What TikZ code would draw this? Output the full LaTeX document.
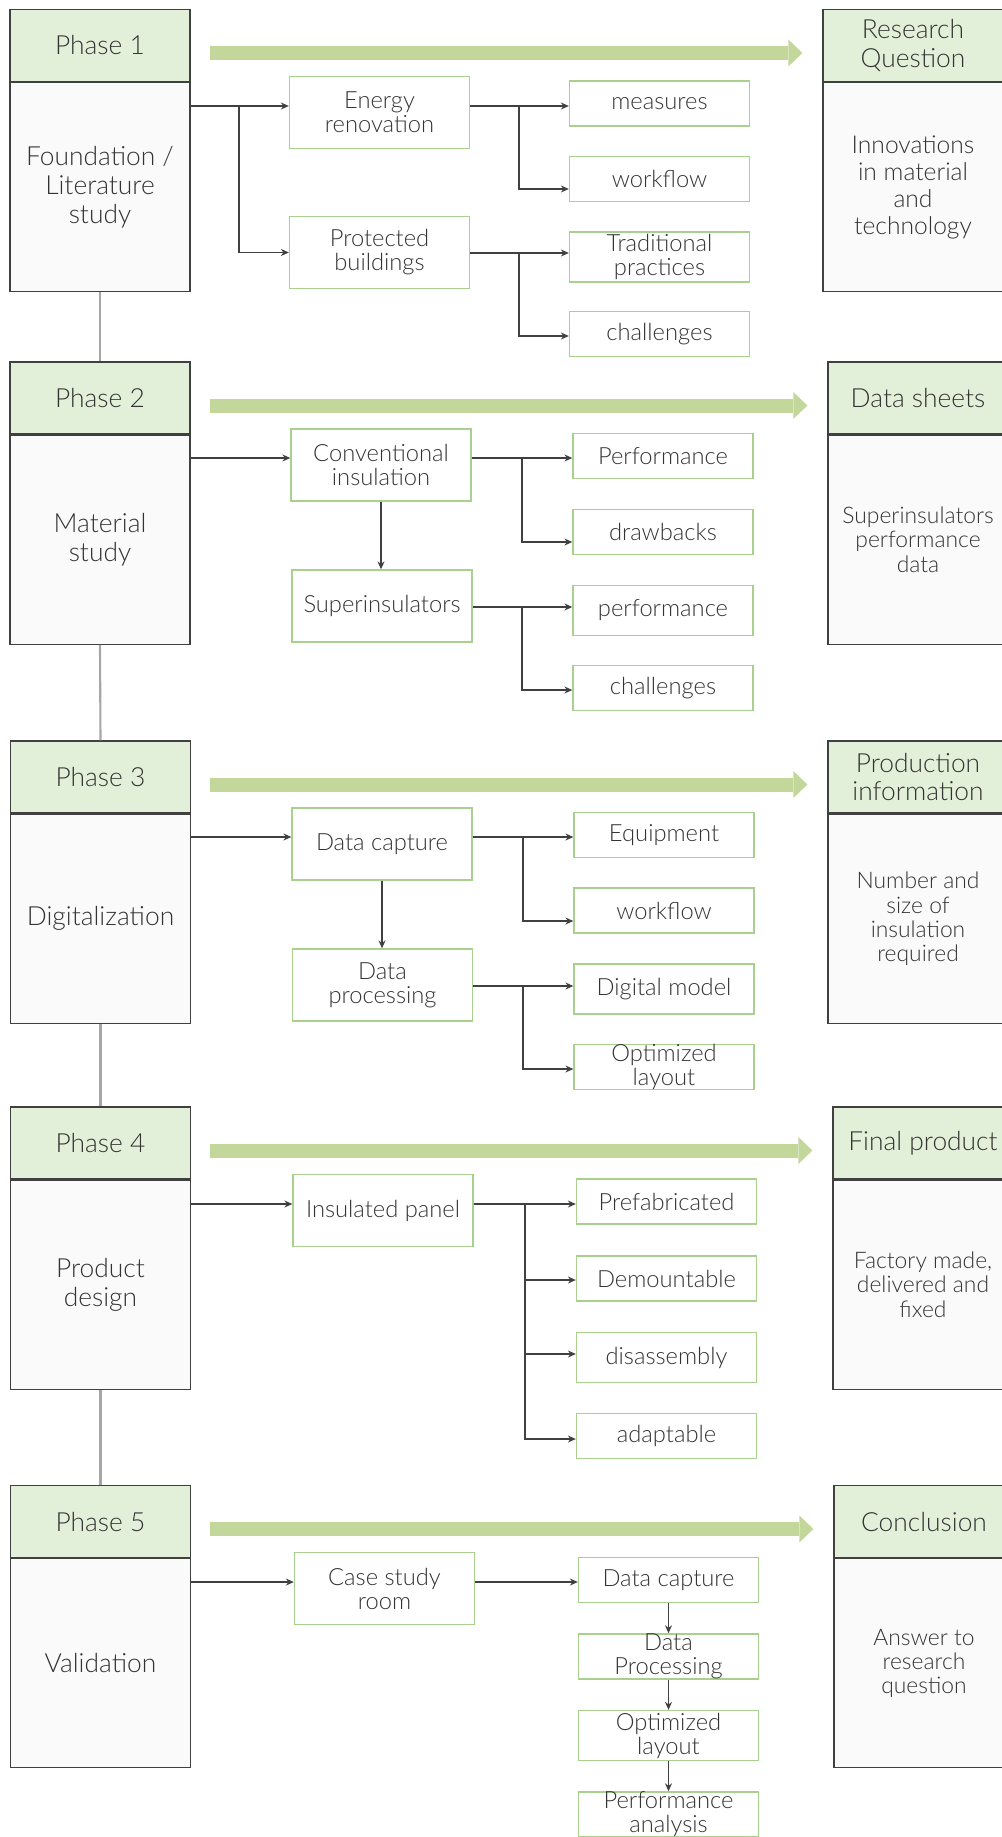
\documentclass[tikz,border=0pt]{standalone}
\usepackage{fontspec}
\IfFontExistsTF{Lato Light}{\setmainfont{Lato Light}}{\setmainfont{Lato}}
\usetikzlibrary{arrows.meta}
\usetikzlibrary{calc,positioning}

\definecolor{headfill}{HTML}{E2F0D9}
\definecolor{bodyfill}{HTML}{FAFAFA}
\definecolor{framegray}{HTML}{404040}
\definecolor{boxgreen}{HTML}{A9D18E}
\definecolor{bargreen}{HTML}{C4D79B}
\definecolor{linkgray}{HTML}{A6A6A6}
\definecolor{textgray}{HTML}{333333}

\begin{document}
\begin{tikzpicture}[x=0.2mm,y=-0.2mm,
	every node/.style={text=textgray, align=center, inner sep=0pt},
	head/.style={draw=framegray, fill=headfill, line width=0.7pt, minimum width=36mm, minimum height=14.4mm, font=\fontsize{15}{16}\selectfont},
	body/.style={draw=framegray, fill=bodyfill, line width=0.7pt, minimum width=36mm, minimum height=41.8mm, font=\fontsize{15}{16.5}\selectfont},
	result/.style={body, font=\fontsize{13}{13.7}\selectfont},
	mid/.style={draw=boxgreen, fill=white, line width=0.8pt, minimum width=36mm, minimum height=14.4mm, font=\fontsize{13.5}{13.7}\selectfont},
	leaf/.style={mid, minimum height=9mm},
	tall/.style={mid, minimum height=10mm},
	conn/.style={draw=framegray, line width=0.6pt, -{Stealth[length=4.5pt,width=4pt]}},
	link/.style={draw=linkgray, line width=1.2pt},
	bar/.style={draw=bargreen, line width=2.8mm, -{Triangle[length=2.8mm,width=5.4mm,line width=0pt]}}]

	\clip (0,0) rectangle (1002,1837);

	% phases
	\node [head] (ph1) at (100,45.5) {Phase 1};
	\node [body, anchor=north] (pb1) at (ph1.south) {Foundation /\\Literature\\study};
	\node [head] (ph2) at (100,398) {Phase 2};
	\node [body, anchor=north] (pb2) at (ph2.south) {Material\\study};
	\node [head] (ph3) at (100.5,777) {Phase 3};
	\node [body, anchor=north] (pb3) at (ph3.south) {Digitalization};
	\node [head] (ph4) at (100.5,1143) {Phase 4};
	\node [body, anchor=north] (pb4) at (ph4.south) {Product\\design};
	\node [head] (ph5) at (100.5,1521.5) {Phase 5};
	\node [body, anchor=north] (pb5) at (ph5.south) {Validation};

	\draw [link] (pb1.south) -- (ph2.north);
	\draw [link] (pb2.south) -- (ph3.north);
	\draw [link] (pb3.south) -- (ph4.north);
	\draw [link] (pb4.south) -- (ph5.north);

	% outcomes
	\node [head] (rh1) at (913,45.5) {Research\\Question};
	\node [result, anchor=north, font=\fontsize{14}{15.4}\selectfont] (rb1) at (rh1.south) {Innovations\\in material\\and\\technology};
	\node [head] (rh2) at (918,398) {Data sheets};
	\node [result, anchor=north] (rb2) at (rh2.south) {Superinsulators\\performance\\data};
	\node [head] (rh3) at (918,777) {Production\\information};
	\node [result, anchor=north] (rb3) at (rh3.south) {Number and\\size of\\insulation\\required};
	\node [head] (rh4) at (923,1143) {Final product};
	\node [result, anchor=north] (rb4) at (rh4.south) {Factory made,\\delivered and\\fixed};
	\node [head] (rh5) at (924,1521.5) {Conclusion};
	\node [result, anchor=north] (rb5) at (rh5.south) {Answer to\\research\\question};

	\draw [bar] ([xshift=3.8mm,yshift=-1.5mm]ph1.east) -- ([xshift=-4mm,yshift=-1.5mm]rh1.west);
	\draw [bar] ([xshift=3.8mm,yshift=-1.5mm]ph2.east) -- ([xshift=-4mm,yshift=-1.5mm]rh2.west);
	\draw [bar] ([xshift=3.8mm,yshift=-1.5mm]ph3.east) -- ([xshift=-4mm,yshift=-1.5mm]rh3.west);
	\draw [bar] ([xshift=3.8mm,yshift=-1.5mm]ph4.east) -- ([xshift=-4mm,yshift=-1.5mm]rh4.west);
	\draw [bar] ([xshift=3.8mm,yshift=-1.5mm]ph5.east) -- ([xshift=-4mm,yshift=-1.5mm]rh5.west);

	% phase 1
	\node [mid] (en) at (379.5,112.5) {Energy\\renovation};
	\node [mid] (pr) at (379.5,252.5) {Protected\\buildings};
	\node [leaf] (me) at (659.5,103.5) {measures};
	\node [leaf] (wf1) at (659.5,179) {workflow};
	\node [tall] (tp) at (659.5,257) {Traditional\\practices};
	\node [leaf] (ch1) at (659.5,334) {challenges};

	\coordinate (j1) at (239,106);
	\coordinate (k1) at (519,106);
	\coordinate (k2) at (519,253);

	\draw [conn] (j1 -| pb1.east) -- (j1 -| en.west);
	\draw [conn] (j1) |- (pr.west);
	\draw [conn] (k1 -| en.east) -- (k1 -| me.west);
	\draw [conn] (k1) |- ([yshift=-2mm]wf1.west);
	\draw [conn] (k2 -| pr.east) -- (k2 -| tp.west);
	\draw [conn] (k2) |- ([yshift=-0.4mm]ch1.west);

	% phase 2
	\node [mid] (ci) at (381,465) {Conventional\\insulation};
	\node [mid] (si) at (382,606) {Superinsulators};
	\node [leaf] (pf) at (663,456) {Performance};
	\node [leaf] (db) at (663,532) {drawbacks};
	\node [tall] (pf2) at (663,610.5) {performance};
	\node [leaf] (ch2) at (663,688) {challenges};

	\coordinate (k3) at (522,458);
	\coordinate (k4) at (522,607);

	\draw [conn] (pb2.east |- k3) -- (ci.west |- k3);
	\draw [conn] (ci.south) -- (ci.south |- si.north);
	\draw [conn] (k3 -| ci.east) -- (k3 -| pf.west);
	\draw [conn] (k3) |- ([yshift=-2mm]db.west);
	\draw [conn] (k4 -| si.east) -- (k4 -| pf2.west);
	\draw [conn] (k4) |- ([yshift=-0.4mm]ch2.west);

	% phase 3
	\node [mid] (dc) at (382,844) {Data capture};
	\node [mid] (dp) at (382.5,985) {Data\\processing};
	\node [leaf] (eq) at (664,835) {Equipment};
	\node [leaf] (wf3) at (664,910.5) {workflow};
	\node [tall] (dm) at (664,989) {Digital model};
	\node [leaf] (ol3) at (664,1067) {Optimized\\layout};

	\coordinate (k5) at (523,837);
	\coordinate (k6) at (523,986);

	\draw [conn] (pb3.east |- k5) -- (dc.west |- k5);
	\draw [conn] (dc.south) -- (dc.south |- dp.north);
	\draw [conn] (k5 -| dc.east) -- (k5 -| eq.west);
	\draw [conn] (k5) |- ([yshift=-2.1mm]wf3.west);
	\draw [conn] (k6 -| dp.east) -- (k6 -| dm.west);
	\draw [conn] (k6) |- ([yshift=-0.4mm]ol3.west);

	% phase 4
	\node [mid] (ip) at (383,1210.5) {Insulated panel};
	\node [leaf] (pre) at (666.5,1201.5) {Prefabricated};
	\node [leaf] (dem) at (666.5,1278.5) {Demountable};
	\node [tall] (dis) at (666.5,1357.5) {disassembly};
	\node [leaf] (ada) at (666.5,1436) {adaptable};

	\coordinate (k7) at (525,1204);

	\draw [conn] (pb4.east |- k7) -- (ip.west |- k7);
	\draw [conn] (k7 -| ip.east) -- (k7 -| pre.west);
	\draw [conn] (k7) |- ([yshift=-0.3mm]dem.west);
	\draw [conn] (k7) |- ([yshift=0.7mm]dis.west);
	\draw [conn] (k7) |- ([yshift=-0.6mm]ada.west);

	% phase 5
	\node [mid] (cs) at (384.5,1588.5) {Case study\\room};
	\node [leaf] (dc5) at (668.5,1580) {Data capture};
	\node [leaf] (dp5) at (668.5,1656.5) {Data\\Processing};
	\node [tall] (ol5) at (668.5,1735.5) {Optimized\\layout};
	\node [leaf] (pa5) at (668.5,1814.5) {Performance\\analysis};

	\coordinate (k8) at (530,1582);

	\draw [conn] (pb5.east |- k8) -- (cs.west |- k8);
	\draw [conn] (cs.east |- k8) -- (dc5.west |- k8);
	\draw [conn] (dc5.south) -- (dp5.north);
	\draw [conn] (dp5.south) -- (ol5.north);
	\draw [conn] (ol5.south) -- (pa5.north);

\end{tikzpicture}
\end{document}
